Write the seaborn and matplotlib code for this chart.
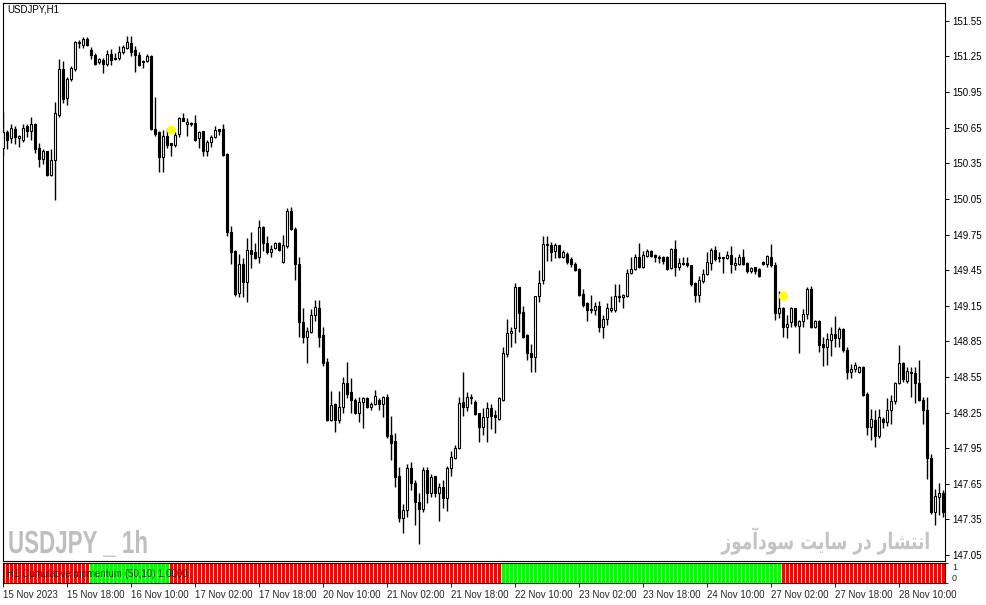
import numpy as np
import pandas as pd
import matplotlib
matplotlib.use("Agg")
import matplotlib.pyplot as plt
from matplotlib import patheffects
from matplotlib.transforms import Affine2D
import seaborn as sns

# USDJPY H1 candles, 15 Nov 2023 02:00 -> 28 Nov 2023
opens = [
    150.48, 150.61, 150.56, 150.64, 150.56, 150.55, 150.66, 150.62, 150.68, 150.48,
    150.39, 150.45, 150.25, 150.38, 150.76, 151.14, 150.90, 151.06, 151.14, 151.36,
    151.35, 151.40, 151.30, 151.26, 151.20, 151.22, 151.19, 151.27, 151.24, 151.24,
    151.29, 151.32, 151.36, 151.30, 151.26, 151.21, 151.21, 151.25, 150.64, 150.61,
    150.40, 150.58, 150.52, 150.50, 150.60, 150.73, 150.68, 150.69, 150.69, 150.56,
    150.62, 150.45, 150.53, 150.57, 150.64, 150.64, 150.43, 149.77, 149.61, 149.26,
    149.50, 149.35, 149.62, 149.60, 149.56, 149.81, 149.68, 149.60, 149.64, 149.68,
    149.52, 149.65, 149.95, 149.80, 149.50, 149.01, 148.89, 148.93, 149.07, 149.13,
    148.90, 148.68, 148.19, 148.32, 148.19, 148.30, 148.50, 148.42, 148.36, 148.25,
    148.34, 148.37, 148.30, 148.32, 148.36, 148.32, 148.38, 148.06, 148.01, 147.72,
    147.36, 147.43, 147.78, 147.66, 147.50, 147.44, 147.77, 147.57, 147.72, 147.57,
    147.62, 147.53, 147.78, 147.87, 147.95, 148.34, 148.30, 148.37, 148.34, 148.25,
    148.13, 148.21, 148.29, 148.23, 148.20, 148.36, 148.74, 148.92, 148.96, 149.31,
    149.10, 148.90, 148.75, 148.72, 149.23, 149.37, 149.66, 149.66, 149.61, 149.66,
    149.56, 149.59, 149.54, 149.50, 149.46, 149.25, 149.17, 149.12, 149.11, 149.15,
    148.97, 149.04, 149.11, 149.11, 149.23, 149.22, 149.23, 149.43, 149.46, 149.56,
    149.48, 149.57, 149.61, 149.58, 149.56, 149.56, 149.56, 149.47, 149.63, 149.48,
    149.51, 149.51, 149.49, 149.34, 149.24, 149.36, 149.42, 149.51, 149.62, 149.56,
    149.55, 149.55, 149.58, 149.49, 149.50, 149.56, 149.51, 149.44, 149.48, 149.46,
    149.52, 149.50, 149.56, 149.49, 149.09, 149.13, 148.97, 149.01, 149.13, 148.98,
    149.02, 149.08, 149.29, 148.97, 149.02, 148.83, 148.80, 148.86, 148.91, 148.88,
    148.95, 148.78, 148.59, 148.62, 148.59, 148.63, 148.41, 148.13, 148.19, 148.05,
    148.20, 148.17, 148.27, 148.35, 148.50, 148.67, 148.52, 148.59, 148.58, 148.50,
    148.36, 148.27, 147.87, 147.41, 147.54, 147.57,
]
highs = [
    150.78, 150.63, 150.68, 150.66, 150.59, 150.68, 150.68, 150.74, 150.69, 150.52,
    150.47, 150.45, 150.47, 150.87, 151.23, 151.21, 151.08, 151.17, 151.38, 151.39,
    151.41, 151.41, 151.33, 151.28, 151.24, 151.24, 151.30, 151.31, 151.28, 151.34,
    151.35, 151.42, 151.42, 151.34, 151.29, 151.22, 151.27, 151.26, 150.91, 150.62,
    150.63, 150.65, 150.52, 150.61, 150.74, 150.77, 150.73, 150.70, 150.76, 150.62,
    150.62, 150.55, 150.59, 150.66, 150.64, 150.68, 150.44, 149.82, 149.62, 149.59,
    149.55, 149.72, 149.77, 149.68, 149.87, 149.82, 149.74, 149.66, 149.69, 149.69,
    149.75, 149.97, 149.98, 149.81, 149.56, 149.13, 148.97, 149.12, 149.20, 149.20,
    148.97, 148.71, 148.43, 148.33, 148.43, 148.55, 148.68, 148.54, 148.37, 148.38,
    148.38, 148.38, 148.34, 148.44, 148.37, 148.39, 148.41, 148.22, 148.08, 147.79,
    147.48, 147.82, 147.83, 147.68, 147.57, 147.79, 147.79, 147.73, 147.72, 147.66,
    147.68, 147.80, 147.93, 147.98, 148.38, 148.59, 148.42, 148.41, 148.36, 148.25,
    148.29, 148.34, 148.32, 148.27, 148.38, 148.80, 149.04, 148.97, 149.34, 149.31,
    149.15, 148.91, 148.83, 149.23, 149.45, 149.74, 149.74, 149.69, 149.68, 149.66,
    149.62, 149.60, 149.56, 149.52, 149.47, 149.29, 149.18, 149.24, 149.18, 149.19,
    149.07, 149.17, 149.23, 149.33, 149.33, 149.25, 149.46, 149.56, 149.59, 149.68,
    149.61, 149.63, 149.62, 149.59, 149.58, 149.57, 149.57, 149.64, 149.70, 149.55,
    149.56, 149.56, 149.49, 149.35, 149.40, 149.46, 149.60, 149.64, 149.65, 149.60,
    149.56, 149.61, 149.65, 149.56, 149.59, 149.63, 149.52, 149.48, 149.48, 149.47,
    149.53, 149.58, 149.67, 149.52, 149.27, 149.14, 149.07, 149.14, 149.13, 149.03,
    149.12, 149.31, 149.32, 149.03, 149.03, 148.89, 148.92, 148.97, 149.06, 148.97,
    148.96, 148.80, 148.66, 148.68, 148.64, 148.64, 148.42, 148.28, 148.27, 148.28,
    148.21, 148.37, 148.40, 148.51, 148.82, 148.68, 148.63, 148.63, 148.63, 148.69,
    148.38, 148.38, 147.90, 147.61, 147.66, 147.60,
]
lows = [
    150.42, 150.47, 150.52, 150.51, 150.49, 150.53, 150.57, 150.55, 150.44, 150.32,
    150.34, 150.24, 150.24, 150.04, 150.74, 150.86, 150.84, 151.04, 151.13, 151.32,
    151.32, 151.34, 151.23, 151.18, 151.19, 151.11, 151.17, 151.18, 151.22, 151.22,
    151.27, 151.31, 151.25, 151.12, 151.17, 151.15, 151.20, 150.63, 150.58, 150.28,
    150.28, 150.48, 150.41, 150.49, 150.57, 150.71, 150.58, 150.66, 150.54, 150.48,
    150.41, 150.41, 150.49, 150.56, 150.59, 150.41, 149.74, 149.50, 149.23, 149.22,
    149.22, 149.18, 149.47, 149.54, 149.51, 149.61, 149.59, 149.56, 149.63, 149.61,
    149.51, 149.64, 149.79, 149.37, 148.89, 148.84, 148.67, 148.92, 149.02, 148.80,
    148.64, 148.18, 148.18, 148.09, 148.16, 148.25, 148.37, 148.25, 148.24, 148.17,
    148.12, 148.29, 148.27, 148.31, 148.27, 148.21, 148.04, 147.85, 147.62, 147.33,
    147.24, 147.37, 147.60, 147.30, 147.14, 147.41, 147.49, 147.54, 147.54, 147.34,
    147.45, 147.42, 147.72, 147.86, 147.94, 148.22, 148.26, 148.32, 148.23, 148.00,
    148.06, 148.00, 148.11, 148.08, 148.19, 148.35, 148.72, 148.80, 148.84, 148.93,
    148.88, 148.69, 148.59, 148.59, 149.18, 149.33, 149.53, 149.53, 149.55, 149.55,
    149.55, 149.50, 149.48, 149.44, 149.23, 149.14, 149.02, 149.09, 149.07, 148.93,
    148.88, 148.99, 149.10, 149.10, 149.18, 149.13, 149.22, 149.42, 149.45, 149.47,
    149.47, 149.56, 149.56, 149.52, 149.51, 149.50, 149.45, 149.46, 149.40, 149.45,
    149.49, 149.48, 149.32, 149.18, 149.18, 149.34, 149.41, 149.45, 149.53, 149.52,
    149.43, 149.54, 149.43, 149.45, 149.49, 149.49, 149.43, 149.43, 149.42, 149.39,
    149.49, 149.48, 149.48, 149.03, 149.05, 148.89, 148.88, 148.97, 148.97, 148.75,
    148.97, 149.04, 148.96, 148.96, 148.76, 148.64, 148.65, 148.73, 148.80, 148.80,
    148.76, 148.53, 148.54, 148.59, 148.58, 148.39, 148.06, 148.02, 147.96, 148.04,
    148.12, 148.14, 148.15, 148.32, 148.49, 148.51, 148.50, 148.38, 148.33, 148.35,
    148.15, 147.69, 147.40, 147.30, 147.39, 147.37,
]
closes = [
    150.61, 150.55, 150.65, 150.57, 150.58, 150.65, 150.62, 150.68, 150.47, 150.39,
    150.45, 150.25, 150.38, 150.77, 151.14, 150.89, 151.06, 151.15, 151.37, 151.37,
    151.40, 151.35, 151.26, 151.19, 151.23, 151.19, 151.27, 151.22, 151.23, 151.29,
    151.33, 151.37, 151.29, 151.26, 151.18, 151.20, 151.25, 150.64, 150.60, 150.40,
    150.58, 150.50, 150.50, 150.59, 150.73, 150.71, 150.70, 150.68, 150.55, 150.61,
    150.45, 150.53, 150.57, 150.63, 150.62, 150.42, 149.77, 149.60, 149.25, 149.50,
    149.35, 149.62, 149.59, 149.55, 149.81, 149.68, 149.60, 149.63, 149.68, 149.62,
    149.66, 149.95, 149.80, 149.50, 149.01, 148.89, 148.94, 149.07, 149.14, 148.89,
    148.67, 148.19, 148.31, 148.19, 148.30, 148.50, 148.41, 148.36, 148.25, 148.34,
    148.37, 148.30, 148.32, 148.39, 148.32, 148.38, 148.05, 147.99, 147.71, 147.36,
    147.43, 147.78, 147.66, 147.50, 147.44, 147.77, 147.57, 147.71, 147.57, 147.62,
    147.53, 147.78, 147.88, 147.95, 148.33, 148.30, 148.38, 148.38, 148.24, 148.13,
    148.21, 148.29, 148.22, 148.21, 148.37, 148.75, 148.92, 148.94, 149.31, 149.09,
    148.89, 148.75, 148.72, 149.23, 149.34, 149.67, 149.67, 149.60, 149.66, 149.56,
    149.60, 149.52, 149.50, 149.45, 149.24, 149.16, 149.11, 149.11, 149.15, 148.97,
    149.04, 149.13, 149.13, 149.23, 149.22, 149.24, 149.43, 149.46, 149.56, 149.48,
    149.58, 149.61, 149.57, 149.56, 149.55, 149.53, 149.46, 149.63, 149.48, 149.51,
    149.50, 149.49, 149.33, 149.24, 149.37, 149.42, 149.52, 149.62, 149.54, 149.55,
    149.56, 149.58, 149.50, 149.51, 149.56, 149.50, 149.44, 149.47, 149.44, 149.40,
    149.50, 149.57, 149.49, 149.09, 149.13, 148.97, 149.00, 149.13, 148.99, 149.02,
    149.08, 149.29, 148.97, 149.02, 148.82, 148.80, 148.87, 148.91, 148.88, 148.95,
    148.78, 148.59, 148.62, 148.65, 148.63, 148.40, 148.13, 148.20, 148.05, 148.21,
    148.17, 148.27, 148.35, 148.50, 148.67, 148.53, 148.60, 148.58, 148.50, 148.36,
    148.27, 147.87, 147.41, 147.55, 147.57, 147.41,
]

# cumulative momentum state per bar (1 = green, 0 = red)
momentum = [0] * 22 + [1] * 20 + [0] * 83 + [1] * 70 + [0] * 41

# yellow signal dots
signal_bar = [42, 195]
signal_price = [150.63, 149.23]

price_ticks = [147.05, 147.35, 147.65, 147.95, 148.25, 148.55, 148.85, 149.15,
               149.45, 149.75, 150.05, 150.35, 150.65, 150.95, 151.25, 151.55]
time_tick_bars = [0, 16, 32, 48, 64, 80, 96, 112, 128, 144, 160, 176, 192, 208, 224]
time_tick_labels = ["15 Nov 2023", "15 Nov 18:00", "16 Nov 10:00", "17 Nov 02:00",
                    "17 Nov 18:00", "20 Nov 10:00", "21 Nov 02:00", "21 Nov 18:00",
                    "22 Nov 10:00", "23 Nov 02:00", "23 Nov 18:00", "24 Nov 10:00",
                    "27 Nov 02:00", "27 Nov 18:00", "28 Nov 10:00"]

persian_note = "انتشار در سایت سودآموز"

df = pd.DataFrame({"open": opens, "high": highs, "low": lows, "close": closes})
df["bar"] = np.arange(len(df))
df["bull"] = df["close"] >= df["open"]

sns.set_style("white")
plt.rcParams["font.family"] = ["Liberation Sans", "DejaVu Sans"]

# minimal arabic shaping (matplotlib draws glyphs left to right without joining)
FORMS = {
    "ا": ("\uFE8D", "\uFE8E", None, None),
    "آ": ("\uFE81", "\uFE82", None, None),
    "د": ("\uFEA9", "\uFEAA", None, None),
    "ر": ("\uFEAD", "\uFEAE", None, None),
    "ز": ("\uFEAF", "\uFEB0", None, None),
    "و": ("\uFEED", "\uFEEE", None, None),
    "ن": ("\uFEE5", "\uFEE6", "\uFEE7", "\uFEE8"),
    "ت": ("\uFE95", "\uFE96", "\uFE97", "\uFE98"),
    "ش": ("\uFEB5", "\uFEB6", "\uFEB7", "\uFEB8"),
    "س": ("\uFEB1", "\uFEB2", "\uFEB3", "\uFEB4"),
    "م": ("\uFEE1", "\uFEE2", "\uFEE3", "\uFEE4"),
    "ی": ("\uFBFC", "\uFBFD", "\uFEF3", "\uFEF4"),
}


def shape_rtl(text):
    out = []
    for i, ch in enumerate(text):
        if ch not in FORMS:
            out.append(ch)
            continue
        prev = text[i - 1] if i > 0 else ""
        nxt = text[i + 1] if i + 1 < len(text) else ""
        join_prev = prev in FORMS and FORMS[prev][2] is not None
        join_next = FORMS[ch][2] is not None and nxt in FORMS
        iso, fin, ini, med = FORMS[ch]
        if join_prev and join_next:
            out.append(med)
        elif join_prev:
            out.append(fin)
        elif join_next:
            out.append(ini)
        else:
            out.append(iso)
    return "".join(out)[::-1]


class SqueezeX(patheffects.AbstractPathEffect):
    """Narrow the glyphs horizontally around a fixed pixel column."""

    def __init__(self, factor, anchor_px):
        super().__init__()
        self.factor = factor
        self.anchor = anchor_px

    def draw_path(self, renderer, gc, tpath, affine, rgbFace=None):
        sq = (Affine2D().translate(-self.anchor, 0)
              .scale(self.factor, 1).translate(self.anchor, 0))
        renderer.draw_path(gc, tpath, affine + sq, rgbFace)


W, H = 987, 605
def box(x0, y0, x1, y1):
    return [x0 / W, 1 - y1 / H, (x1 - x0) / W, (y1 - y0) / H]

fig = plt.figure(figsize=(W / 100, H / 100), dpi=100)
ax = fig.add_axes(box(3, 3, 945, 561))
ax2 = fig.add_axes(box(3, 563, 945, 583))

# wicks
ax.vlines(df["bar"], df["low"], df["high"], color="black", linewidth=1.0, zorder=2)
# bodies
body_bottom = df[["open", "close"]].min(axis=1)
body_height = (df["close"] - df["open"]).abs().clip(lower=0.006)
face = np.where(df["bull"], "white", "black")
ax.bar(df["bar"], body_height, bottom=body_bottom, width=0.5, color=face,
       edgecolor="black", linewidth=0.8, zorder=3)

sns.scatterplot(x=signal_bar, y=signal_price, color="#FFFF00", s=42,
                edgecolor="none", ax=ax, zorder=4, legend=False)

ax.set_xlim(-0.08, 235.43)
ax.set_ylim(147.0, 151.70)
ax.yaxis.tick_right()
ax.set_yticks(price_ticks)
ax.set_yticklabels([f"{p:.2f}" for p in price_ticks])
ax.tick_params(axis="y", direction="out", length=3, width=0.7, pad=2,
               labelsize=7, colors="black", right=True)
ax.set_xticks([])
ax.set_xlabel("")
ax.set_ylabel("")
for sp in ax.spines.values():
    sp.set_color("black")
    sp.set_linewidth(0.8)

# momentum panel
bar_colors = np.where(np.array(momentum) == 1, "#00FF00", "#FF0000")
ax2.bar(df["bar"], [1] * len(df), bottom=0, width=0.78, color=bar_colors,
        linewidth=0)
ax2.set_xlim(-0.08, 235.43)
ax2.set_ylim(0, 1)
ax2.yaxis.tick_right()
ax2.set_yticks([1, 0])
ax2.set_yticklabels(["1", "0"])
ylabs = ax2.get_yticklabels()
ylabs[0].set_va("top")
ylabs[1].set_va("bottom")
ax2.tick_params(axis="y", length=2, width=0.7, pad=3, labelsize=6.5)
ax2.set_xticks(time_tick_bars)
ax2.set_xticklabels(time_tick_labels)
for lab in ax2.get_xticklabels():
    lab.set_ha("left")
ax2.tick_params(axis="x", direction="out", length=3, width=0.7, pad=2,
                labelsize=7, bottom=True)
for sp in ax2.spines.values():
    sp.set_color("black")
    sp.set_linewidth(0.8)
ax2.text(0.004, 0.45, "H1 Cumulative momentum (50,10) 1.0000", transform=ax2.transAxes,
         fontsize=7, color="#222222", va="center", ha="left")

# labels and watermarks
fig.text(7 / W, 1 - 10 / H, "USDJPY,H1", fontsize=7, color="black",
         va="center", ha="left")
fig.text(8 / W, 1 - 553 / H, "USDJPY _ 1h", fontsize=23, fontweight="bold",
         family=["Liberation Sans"], color="#BEBEBE",
         va="baseline", ha="left",
         path_effects=[SqueezeX(0.70, 8)])
fig.text(930 / W, 1 - 541 / H, shape_rtl(persian_note), fontsize=16.5,
         fontweight="bold", family=["DejaVu Sans"], color="#C4C4C4",
         va="center", ha="right",
         path_effects=[SqueezeX(0.74, 930)])

fig.savefig("out.png", dpi=100)
